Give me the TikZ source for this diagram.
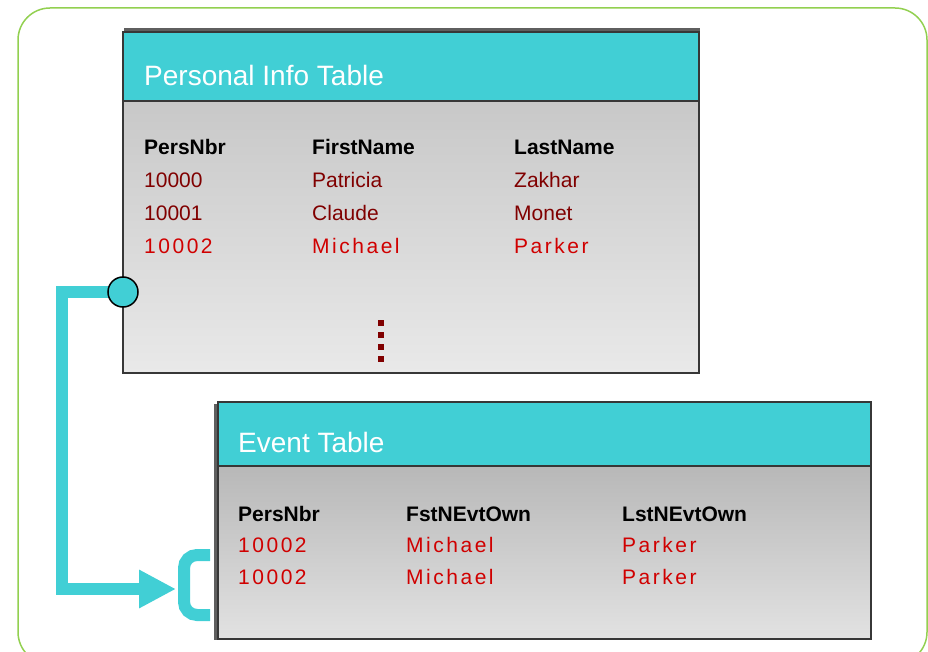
\documentclass[tikz,border=0pt]{standalone}
\usepackage{fontspec}
\setmainfont{Liberation Sans}
\usetikzlibrary{arrows.meta}
\definecolor{hdcyan}{RGB}{65,207,213}
\definecolor{frame}{RGB}{146,208,80}
\definecolor{edge}{RGB}{55,55,55}
\definecolor{darkred}{RGB}{128,0,0}
\definecolor{brightred}{RGB}{208,0,0}
\tikzset{
  outline/.style={draw=edge, line width=2.2pt},
  header/.style={fill=hdcyan, outline},
  title/.style={anchor=base west, text=white, font=\fontsize{28}{31}\selectfont, inner sep=0pt},
  colhead/.style={anchor=base west, font=\fontsize{21}{24}\selectfont\bfseries, inner sep=0pt},
  oldrow/.style={anchor=base west, text=darkred, font=\fontsize{21}{24}\selectfont, inner sep=0pt},
  newrow/.style={anchor=base west, text=brightred, font=\fontsize{21}{24}\selectfont\addfontfeature{LetterSpace=12}, inner sep=0pt},
  link/.style={draw=hdcyan, line width=12pt},
  dotsq/.style={fill=darkred, draw=none, minimum size=6pt, inner sep=0pt},
  keycircle/.style={circle, minimum size=30pt, inner sep=0pt, fill=hdcyan, draw=black, line width=1.5pt},
}
\begin{document}
\begin{tikzpicture}[x=1pt, y=-1pt]
\useasboundingbox (0,0) rectangle (928,652);

% outer green frame
\draw[frame, line width=1.5pt, rounded corners=32pt] (18,8) rectangle (927,664);

% ---------------- Personal Info Table ----------------
\fill[edge!80] (124,28) rectangle (700,370);
\node (pbody) [anchor=north west, minimum width=576pt, minimum height=272pt, outer sep=0pt, inner sep=0pt,
  top color={rgb,255:red,200;green,200;blue,200}, bottom color={rgb,255:red,233;green,233;blue,233}, outline] at (123,101) {};
\node (phead) [anchor=north west, minimum width=576pt, minimum height=69pt, outer sep=0pt, inner sep=0pt, header] at (123,32) {};
\node (ptitle) [title] at (144,86) {Personal Info Table};

\node (p11) [colhead] at (144,154.5) {PersNbr};
\node (p12) [colhead] at (312,154.5) {FirstName};
\node (p13) [colhead] at (514,154.5) {LastName};
\node (p21) [oldrow] at (144,187.5) {10000};
\node (p22) [oldrow] at (312,187.5) {Patricia};
\node (p23) [oldrow] at (514,187.5) {Zakhar};
\node (p31) [oldrow] at (144,220.5) {10001};
\node (p32) [oldrow] at (312,220.5) {Claude};
\node (p33) [oldrow] at (514,220.5) {Monet};
\node (p41) [newrow] at (144,253.5) {10002};
\node (p42) [newrow] at (312,253.5) {Michael};
\node (p43) [newrow] at (514,253.5) {Parker};

% continuation marks
\node (d1) [dotsq] at (381,323) {};
\node (d2) [dotsq] at (381,335) {};
\node (d3) [dotsq] at (381,347) {};
\node (d4) [dotsq] at (381,359) {};

% ---------------- Event Table ----------------
\fill[edge!80] (214,404) rectangle (868,640);
\node (ebody) [anchor=north west, minimum width=653pt, minimum height=173pt, outer sep=0pt, inner sep=0pt,
  top color={rgb,255:red,184;green,184;blue,184}, bottom color={rgb,255:red,226;green,226;blue,226}, outline] at (218,466) {};
\node (ehead) [anchor=north west, minimum width=653pt, minimum height=64pt, outer sep=0pt, inner sep=0pt, header] at (218,402) {};
\node (etitle) [title] at (238,452) {Event Table};

\node (e11) [colhead] at (238,521.5) {PersNbr};
\node (e12) [colhead] at (406,521.5) {FstNEvtOwn};
\node (e13) [colhead] at (622,521.5) {LstNEvtOwn};
\node (e21) [newrow] at (238,552.5) {10002};
\node (e22) [newrow] at (406,552.5) {Michael};
\node (e23) [newrow] at (622,552.5) {Parker};
\node (e31) [newrow] at (238,584.5) {10002};
\node (e32) [newrow] at (406,584.5) {Michael};
\node (e33) [newrow] at (622,584.5) {Parker};

% ---------------- relationship connector ----------------
\coordinate (keyc) at (123,292);
\coordinate (bend1) at (62,292);
\coordinate (bend2) at (62,589);
\coordinate (tip) at (176,589);
\coordinate (fktop) at (210,555);
\coordinate (fkbot) at (210,615);

\draw[link, line join=miter, -{Triangle[length=37pt, width=36pt]}] (keyc) -- (bend1) -- (bend2) -- (tip);
\node (key) [keycircle] at (keyc) {};
\draw[link, rounded corners=13pt] (fktop) -- (184,555) -- (184,615) -- (fkbot);
\end{tikzpicture}
\end{document}
